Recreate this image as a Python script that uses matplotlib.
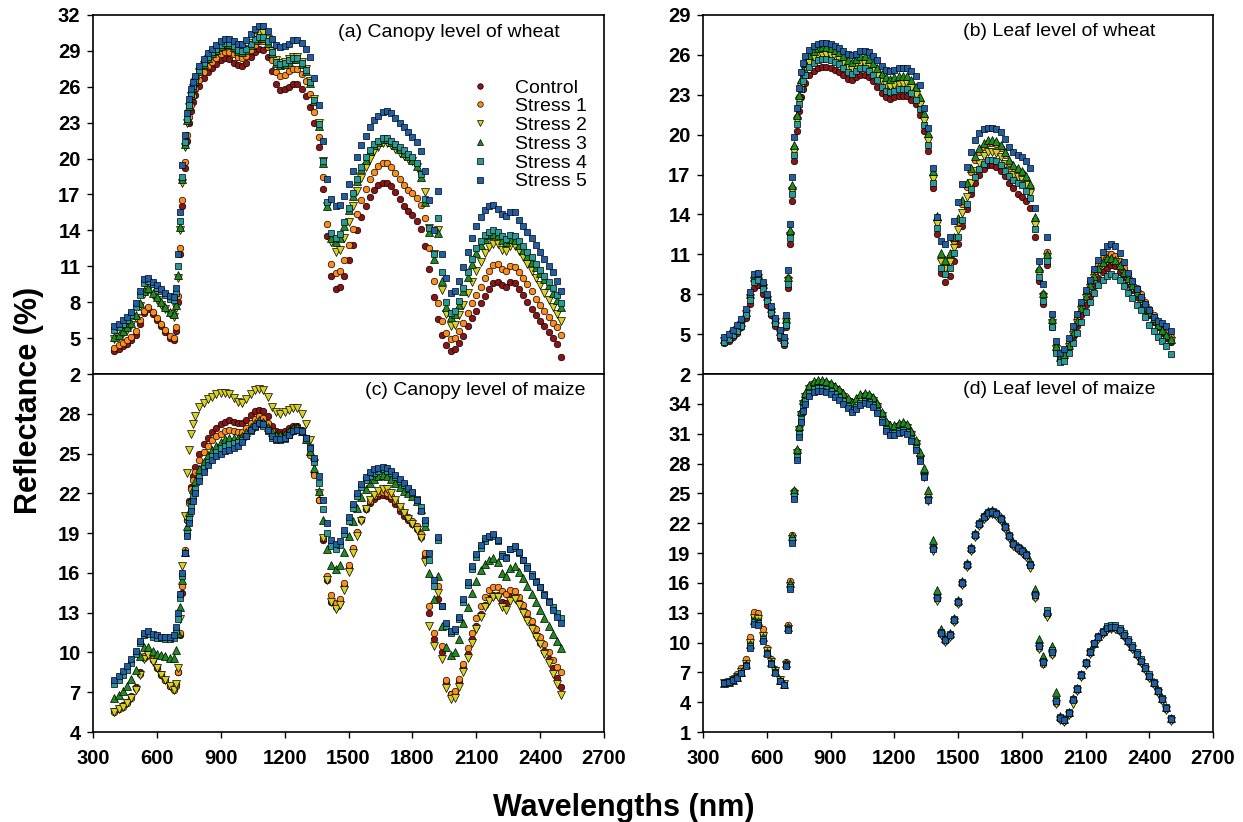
import matplotlib.pyplot as plt

# ---------------------------------------------------------
# Spectral reflectance of wheat / maize under 5 stress levels
# values (20 nm, 10 nm on the red edge)
# ---------------------------------------------------------

WAVELENGTHS = list(range(400, 681, 20)) + list(range(690, 781, 10)) + list(range(800, 2501, 20))

SERIES_NAMES = ["Control", "Stress 1", "Stress 2", "Stress 3", "Stress 4", "Stress 5"]

# (a) canopy level of wheat
A_CONTROL = [
    3.9, 4.1, 4.3, 4.5, 4.8, 5.3, 6.2, 7.1, 7.4, 7.0, 6.5, 6.0, 5.5, 5.0, 4.8,
    5.6, 8.0, 12.0, 16.0, 19.2, 21.5, 23.0, 24.0, 24.7, 25.3,
    26.1, 26.7, 27.2, 27.6, 27.9, 28.2, 28.4, 28.3, 28.0, 27.8, 27.7,
    28.0, 28.5, 28.9, 29.2, 29.1, 28.5, 27.3, 26.2, 25.7, 25.8, 26.0, 26.2, 26.2, 25.8, 25.2,
    24.3, 23.0, 21.0, 17.5, 13.5, 10.2, 9.1, 9.3, 10.2, 11.5, 12.8, 14.0, 15.1, 16.0, 16.8,
    17.4, 17.8, 18.0, 18.0, 17.7, 17.2, 16.6, 16.0, 15.6, 15.3, 14.8, 14.1, 12.7, 10.8, 8.4,
    6.6, 5.3, 4.4, 3.9, 4.1, 4.6, 5.2, 6.0, 6.7, 7.3, 7.9, 8.5, 9.1, 9.6, 9.7,
    9.4, 9.3, 9.7, 9.6, 9.1, 8.6, 8.0, 7.4, 6.9, 6.4, 6.0, 5.5, 5.0, 4.5, 3.4,
]
A_STRESS1 = [
    4.2, 4.4, 4.6, 4.8, 5.1, 5.6, 6.5, 7.3, 7.6, 7.2, 6.7, 6.2, 5.7, 5.2, 5.0,
    5.9, 8.5, 12.5, 16.5, 19.7, 22.0, 23.5, 24.5, 25.2, 25.8,
    26.6, 27.2, 27.7, 28.1, 28.4, 28.7, 28.9, 28.9, 28.7, 28.5, 28.4,
    28.6, 29.1, 29.5, 29.8, 29.8, 29.3, 28.2, 27.2, 26.9, 27.0, 27.3, 27.5, 27.5, 27.1, 26.5,
    25.4, 23.9, 21.8, 18.5, 14.5, 11.2, 10.4, 10.6, 11.5, 12.8, 14.1, 15.4, 16.5, 17.5, 18.3,
    18.9, 19.4, 19.6, 19.6, 19.3, 18.8, 18.3, 17.8, 17.4, 17.1, 16.7, 16.1, 15.0, 12.5, 9.8,
    7.9, 6.4, 5.4, 4.9, 5.0, 5.6, 6.3, 7.1, 7.9, 8.6, 9.3, 10.0, 10.6, 11.1, 11.2,
    10.8, 10.6, 11.0, 10.9, 10.5, 10.0, 9.5, 8.9, 8.3, 7.8, 7.3, 6.8, 6.3, 5.9, 5.3,
]
A_STRESS2 = [
    4.9, 5.1, 5.4, 5.7, 6.1, 6.7, 7.7, 8.7, 9.0, 8.6, 8.2, 7.8, 7.4, 7.0, 6.8,
    7.5, 10.0, 14.0, 18.0, 21.0, 23.0, 24.3, 25.2, 25.9, 26.4,
    27.2, 27.8, 28.3, 28.7, 29.0, 29.3, 29.5, 29.5, 29.2, 29.0, 28.9,
    29.2, 29.7, 30.2, 30.5, 30.5, 30.0, 29.0, 28.2, 28.0, 28.1, 28.3, 28.5, 28.5, 28.1, 27.5,
    26.5, 25.0, 23.0, 19.8, 16.0, 13.0, 12.2, 12.4, 13.4, 14.7, 16.0, 17.3, 18.4, 19.3, 20.0,
    20.6, 21.0, 21.3, 21.3, 21.1, 20.8, 20.5, 20.2, 20.0, 19.8, 19.3, 18.6, 17.2, 14.2, 12.0,
    14.0, 9.0, 7.0, 6.0, 6.1, 6.9, 7.8, 8.8, 9.7, 10.6, 11.4, 12.1, 12.6, 12.9, 12.9,
    12.4, 12.3, 12.7, 12.7, 12.3, 11.8, 11.2, 10.6, 10.0, 9.4, 8.8, 8.2, 7.6, 7.0, 6.4,
]
A_STRESS3 = [
    5.1, 5.3, 5.6, 5.9, 6.3, 6.9, 7.9, 8.9, 9.2, 8.8, 8.4, 8.0, 7.6, 7.2, 7.0,
    7.8, 10.3, 14.3, 18.3, 21.2, 23.2, 24.4, 25.3, 26.0, 26.5,
    27.3, 27.9, 28.4, 28.8, 29.1, 29.4, 29.6, 29.6, 29.3, 29.0, 28.9,
    29.1, 29.5, 29.9, 30.1, 30.1, 29.7, 28.8, 28.0, 27.8, 27.9, 28.1, 28.3, 28.3, 27.9, 27.3,
    26.3, 24.8, 22.7, 19.6, 16.0, 13.4, 13.0, 13.4, 14.4, 15.7, 16.9, 18.1, 19.1, 19.9, 20.6,
    21.1, 21.4, 21.6, 21.6, 21.4, 21.1, 20.8, 20.5, 20.2, 19.9, 19.4, 18.5, 16.4, 13.9, 11.6,
    13.8, 9.8, 7.6, 6.8, 7.0, 7.8, 8.9, 10.1, 11.2, 12.1, 12.8, 13.3, 13.6, 13.7, 13.6,
    13.2, 13.0, 13.3, 13.2, 12.8, 12.4, 11.9, 11.4, 10.9, 10.4, 9.9, 9.4, 8.8, 8.2, 7.6,
]
A_STRESS4 = [
    5.7, 5.9, 6.2, 6.5, 6.9, 7.6, 8.6, 9.6, 9.8, 9.5, 9.2, 8.9, 8.6, 8.3, 8.2,
    8.8, 11.0, 14.8, 18.5, 21.4, 23.3, 24.5, 25.4, 26.1, 26.6,
    27.4, 28.0, 28.5, 28.9, 29.2, 29.5, 29.7, 29.7, 29.4, 29.1, 29.0,
    29.2, 29.6, 30.0, 30.2, 30.2, 29.8, 28.9, 28.1, 27.9, 28.0, 28.2, 28.4, 28.4, 28.0, 27.4,
    26.4, 24.9, 22.9, 19.8, 16.4, 13.8, 13.4, 13.7, 14.7, 15.9, 17.1, 18.3, 19.3, 20.1, 20.7,
    21.2, 21.5, 21.7, 21.7, 21.5, 21.2, 21.0, 20.7, 20.4, 20.1, 19.6, 18.7, 16.6, 14.2, 12.0,
    15.0, 10.5, 8.0, 7.1, 7.3, 8.1, 9.2, 10.5, 11.6, 12.5, 13.1, 13.6, 13.9, 14.0, 13.9,
    13.5, 13.3, 13.6, 13.5, 13.1, 12.7, 12.2, 11.8, 11.2, 10.7, 10.2, 9.7, 9.2, 8.6, 7.9,
]
A_STRESS5 = [
    6.0, 6.2, 6.5, 6.8, 7.2, 7.9, 8.9, 9.9, 10.0, 9.7, 9.4, 9.1, 8.8, 8.5, 8.4,
    9.2, 12.0, 15.5, 19.5, 22.0, 23.8, 25.0, 25.8, 26.4, 26.9,
    27.7, 28.3, 28.8, 29.2, 29.5, 29.8, 30.0, 30.0, 29.8, 29.6, 29.6,
    29.9, 30.4, 30.8, 31.1, 31.1, 30.7, 30.0, 29.5, 29.3, 29.4, 29.6, 29.9, 29.9, 29.7, 29.2,
    28.5, 26.7, 24.5, 21.5, 18.3, 16.6, 16.0, 16.1, 16.9, 17.9, 19.0, 20.1, 21.1, 21.9, 22.6,
    23.2, 23.6, 23.9, 24.0, 23.8, 23.4, 23.0, 22.6, 22.2, 21.8, 21.4, 20.6, 19.0, 16.5, 14.0,
    17.3, 12.0, 10.0, 8.8, 8.9, 9.8, 10.9, 12.2, 13.4, 14.4, 15.1, 15.7, 16.0, 16.1, 15.8,
    15.4, 15.2, 15.5, 15.5, 14.9, 14.4, 13.9, 13.4, 12.8, 12.2, 11.6, 11.0, 10.5, 9.8, 8.9,
]

# (b) leaf level of wheat
B_CONTROL = [
    4.3, 4.5, 4.8, 5.1, 5.5, 6.2, 7.3, 8.5, 8.7, 8.0, 7.2, 6.4, 5.6, 4.7, 4.2,
    5.5, 8.5, 11.8, 15.0, 18.0, 20.3, 21.8, 22.8, 23.4, 23.9,
    24.5, 24.8, 25.0, 25.1, 25.1, 25.0, 24.9, 24.7, 24.5, 24.2, 24.1,
    24.3, 24.5, 24.5, 24.3, 24.0, 23.6, 23.1, 22.8, 22.7, 22.8, 22.9, 22.9, 22.9, 22.6, 22.3,
    21.5, 20.3, 18.8, 16.0, 12.5, 9.6, 8.9, 9.4, 10.5, 11.8, 13.1, 14.4, 15.5, 16.4, 17.0,
    17.4, 17.7, 17.7, 17.6, 17.3, 16.9, 16.4, 16.0, 15.5, 15.3, 15.0, 14.5, 12.3, 9.0, 7.3,
    10.2, 5.5, 3.8, 3.1, 3.3, 4.0, 4.8, 5.6, 6.4, 7.2, 7.9, 8.6, 9.2, 9.7, 10.0,
    10.2, 10.1, 9.7, 9.3, 8.8, 8.3, 7.8, 7.3, 6.8, 6.4, 5.9, 5.5, 5.1, 4.7, 4.4,
]
B_STRESS1 = [
    4.5, 4.7, 5.0, 5.4, 5.8, 6.6, 7.9, 9.2, 9.4, 8.7, 7.8, 6.9, 6.0, 5.1, 4.5,
    6.0, 9.2, 12.6, 16.0, 19.0, 21.3, 22.8, 23.9, 24.6, 25.1,
    25.7, 26.0, 26.2, 26.3, 26.3, 26.2, 26.1, 25.9, 25.6, 25.3, 25.2,
    25.4, 25.6, 25.6, 25.4, 25.1, 24.7, 24.3, 24.0, 23.9, 24.0, 24.1, 24.1, 24.1, 23.8, 23.3,
    22.5, 21.3, 19.8, 17.0, 13.6, 10.8, 10.3, 10.8, 12.0, 13.4, 14.8, 16.1, 17.2, 18.1, 18.7,
    19.1, 19.4, 19.4, 19.3, 19.0, 18.5, 17.9, 17.5, 17.3, 17.1, 16.7, 16.1, 13.6, 9.8, 8.0,
    11.2, 6.0, 4.1, 3.3, 3.5, 4.3, 5.2, 6.2, 7.2, 8.1, 8.9, 9.7, 10.3, 10.7, 11.0,
    11.0, 10.9, 10.5, 10.0, 9.5, 9.0, 8.5, 8.0, 7.4, 6.9, 6.4, 5.9, 5.5, 5.1, 4.8,
]
B_STRESS2 = [
    4.5, 4.7, 5.0, 5.3, 5.7, 6.5, 7.7, 9.0, 9.2, 8.5, 7.6, 6.7, 5.9, 5.0, 4.4,
    5.9, 9.0, 12.4, 15.8, 18.7, 21.0, 22.5, 23.6, 24.3, 24.8,
    25.4, 25.7, 25.9, 26.0, 26.0, 25.9, 25.8, 25.6, 25.3, 25.0, 24.9,
    25.1, 25.3, 25.3, 25.1, 24.8, 24.4, 24.0, 23.7, 23.6, 23.7, 23.8, 23.8, 23.8, 23.5, 23.0,
    22.2, 21.0, 19.5, 16.7, 13.3, 10.4, 9.9, 10.4, 11.5, 12.8, 14.1, 15.3, 16.4, 17.3, 17.9,
    18.4, 18.7, 18.7, 18.6, 18.3, 17.8, 17.3, 17.0, 16.8, 16.6, 16.2, 15.6, 13.2, 9.5, 7.8,
    10.8, 5.8, 3.9, 3.1, 3.3, 4.0, 4.9, 5.8, 6.8, 7.7, 8.5, 9.2, 9.8, 10.2, 10.5,
    10.5, 10.4, 10.0, 9.5, 9.0, 8.5, 8.0, 7.5, 7.0, 6.5, 6.0, 5.6, 5.2, 4.8, 4.5,
]
B_STRESS3 = [
    4.6, 4.8, 5.1, 5.5, 5.9, 6.7, 8.0, 9.3, 9.5, 8.8, 7.9, 7.0, 6.1, 5.2, 4.6,
    6.1, 9.3, 12.8, 16.2, 19.2, 21.5, 23.0, 24.2, 24.9, 25.4,
    26.0, 26.3, 26.5, 26.6, 26.6, 26.5, 26.4, 26.2, 25.9, 25.6, 25.5,
    25.7, 25.9, 25.9, 25.7, 25.4, 25.0, 24.6, 24.3, 24.2, 24.3, 24.4, 24.4, 24.4, 24.1, 23.6,
    22.8, 21.6, 20.1, 17.3, 13.9, 11.1, 10.6, 11.1, 12.3, 13.7, 15.1, 16.4, 17.5, 18.4, 19.0,
    19.4, 19.6, 19.6, 19.5, 19.2, 18.7, 18.1, 17.7, 17.5, 17.3, 16.9, 16.3, 13.8, 10.0, 8.1,
    11.0, 6.1, 4.1, 3.3, 3.5, 4.2, 5.1, 6.0, 7.0, 7.9, 8.7, 9.4, 10.0, 10.4, 10.7,
    10.7, 10.6, 10.2, 9.7, 9.2, 8.7, 8.2, 7.7, 7.2, 6.7, 6.2, 5.7, 5.3, 4.9, 4.6,
]
B_STRESS4 = [
    4.4, 4.6, 4.9, 5.2, 5.6, 6.4, 7.6, 8.9, 9.1, 8.4, 7.5, 6.6, 5.8, 4.9, 4.3,
    5.7, 8.8, 12.2, 15.5, 18.5, 20.8, 22.3, 23.4, 24.0, 24.5,
    25.1, 25.4, 25.6, 25.7, 25.7, 25.6, 25.5, 25.3, 25.0, 24.7, 24.6,
    24.8, 25.0, 25.0, 24.8, 24.5, 24.1, 23.6, 23.3, 23.2, 23.3, 23.4, 23.4, 23.4, 23.1, 22.6,
    21.9, 20.7, 19.2, 16.4, 13.0, 10.0, 9.5, 10.0, 11.1, 12.3, 13.6, 14.8, 15.9, 16.8, 17.4,
    17.8, 18.1, 18.1, 18.0, 17.7, 17.3, 16.9, 16.6, 16.4, 16.2, 15.8, 15.2, 12.9, 9.3, 7.5,
    10.5, 5.5, 3.6, 2.9, 3.0, 3.6, 4.3, 5.1, 5.9, 6.7, 7.4, 8.1, 8.7, 9.1, 9.4,
    9.5, 9.4, 9.1, 8.6, 8.1, 7.7, 7.2, 6.8, 6.3, 5.7, 5.2, 4.8, 4.5, 4.1, 3.5,
]
B_STRESS5 = [
    4.8, 5.0, 5.3, 5.7, 6.1, 6.9, 8.2, 9.5, 9.6, 8.9, 8.0, 7.1, 6.2, 5.3, 4.8,
    6.4, 9.8, 13.3, 16.8, 19.8, 22.0, 23.5, 24.7, 25.4, 25.9,
    26.4, 26.7, 26.8, 26.9, 26.9, 26.8, 26.7, 26.5, 26.3, 26.1, 26.0,
    26.1, 26.3, 26.3, 26.2, 25.9, 25.6, 25.2, 24.9, 24.8, 24.9, 25.0, 25.0, 25.0, 24.8, 24.4,
    23.7, 22.0, 20.5, 17.5, 13.8, 12.0, 11.8, 12.3, 13.5, 14.9, 16.3, 17.6, 18.7, 19.6, 20.1,
    20.4, 20.5, 20.5, 20.4, 20.2, 19.7, 19.1, 18.7, 18.5, 18.3, 18.0, 17.5, 14.5, 10.5, 8.8,
    12.3, 6.5, 4.5, 3.6, 3.9, 4.7, 5.6, 6.5, 7.4, 8.3, 9.1, 9.9, 10.6, 11.2, 11.6,
    11.8, 11.6, 11.1, 10.4, 9.6, 9.0, 8.4, 7.8, 7.3, 6.8, 6.3, 6.0, 5.8, 5.6, 5.2,
]

# (c) canopy level of maize
C_CONTROL = [
    5.6, 5.8, 6.0, 6.3, 6.7, 7.4, 8.5, 9.6, 9.9, 9.4, 8.8, 8.3, 7.9, 7.5, 7.3,
    7.6, 8.5, 11.3, 14.5, 17.5, 20.0, 21.4, 22.5, 23.3, 24.0,
    25.0, 25.7, 26.2, 26.6, 26.9, 27.2, 27.4, 27.5, 27.4, 27.3, 27.3,
    27.5, 27.9, 28.2, 28.3, 28.2, 27.8, 27.1, 26.7, 26.6, 26.7, 26.9, 27.1, 27.1, 26.8, 26.1,
    25.0, 23.5, 21.5, 18.5, 15.5, 13.8, 13.4, 13.8, 15.0, 16.4, 17.8, 19.0, 20.0, 20.8, 21.3,
    21.6, 21.8, 21.9, 21.8, 21.6, 21.2, 20.7, 20.3, 20.0, 19.7, 19.3, 18.7, 17.2, 13.0, 11.0,
    14.0, 10.0, 7.8, 6.9, 7.0, 7.8, 8.8, 9.9, 11.0, 12.0, 12.9, 13.6, 14.1, 14.3, 14.3,
    13.8, 13.7, 14.2, 14.2, 13.8, 13.2, 12.6, 12.0, 11.3, 10.7, 10.1, 9.5, 8.8, 8.1, 7.4,
]
C_STRESS1 = [
    5.5, 5.7, 5.9, 6.2, 6.6, 7.3, 8.4, 9.7, 10.0, 9.5, 8.9, 8.4, 7.9, 7.5, 7.2,
    7.5, 8.5, 11.5, 15.0, 17.7, 20.0, 21.3, 22.3, 23.0, 23.6,
    24.5, 25.1, 25.6, 26.0, 26.3, 26.5, 26.7, 26.8, 26.7, 26.6, 26.6,
    26.9, 27.3, 27.6, 27.8, 27.7, 27.3, 26.7, 26.3, 26.2, 26.3, 26.6, 26.8, 26.9, 26.6, 26.0,
    24.9, 23.4, 21.5, 18.6, 15.8, 14.3, 13.7, 14.0, 15.2, 16.6, 17.9, 19.1, 20.1, 20.9, 21.4,
    21.8, 22.0, 22.1, 22.0, 21.8, 21.4, 20.9, 20.5, 20.2, 19.9, 19.5, 18.9, 17.5, 13.5, 11.5,
    15.0, 10.5, 7.9, 6.9, 7.1, 8.0, 9.1, 10.3, 11.5, 12.6, 13.5, 14.2, 14.7, 14.9, 14.9,
    14.6, 14.4, 14.7, 14.6, 14.2, 13.6, 13.0, 12.4, 11.8, 11.2, 10.6, 10.0, 9.4, 8.9, 8.5,
]
C_STRESS2 = [
    5.5, 5.7, 5.9, 6.2, 6.6, 7.2, 8.3, 9.5, 9.8, 9.3, 8.8, 8.3, 7.9, 7.5, 7.2,
    7.6, 8.8, 12.5, 16.5, 20.3, 23.5, 25.3, 26.5, 27.2, 27.8,
    28.5, 28.8, 29.1, 29.3, 29.5, 29.6, 29.6, 29.5, 29.2, 28.9, 28.8,
    29.1, 29.5, 29.8, 29.9, 29.8, 29.3, 28.5, 28.1, 28.0, 28.1, 28.3, 28.4, 28.4, 28.0, 27.2,
    26.0, 24.3, 22.0, 18.6, 15.5, 13.8, 13.3, 13.6, 14.7, 16.1, 17.5, 18.8, 19.9, 20.8, 21.5,
    21.9, 22.2, 22.3, 22.3, 22.0, 21.5, 21.0, 20.5, 20.1, 19.7, 19.2, 18.6, 16.8, 12.0, 10.5,
    14.5, 9.5, 7.3, 6.5, 6.6, 7.4, 8.5, 9.6, 10.7, 11.8, 12.7, 13.4, 13.9, 14.2, 14.2,
    13.4, 13.2, 13.9, 14.0, 13.6, 13.0, 12.4, 11.8, 11.2, 10.6, 9.9, 9.2, 8.4, 7.6, 6.8,
]
C_STRESS3 = [
    6.6, 6.8, 7.1, 7.5, 8.0, 8.7, 9.7, 10.4, 10.4, 10.1, 9.9, 9.8, 9.7, 9.6, 9.6,
    10.2, 11.5, 13.4, 15.5, 17.6, 19.5, 20.6, 21.6, 22.3, 22.9,
    23.8, 24.4, 24.9, 25.3, 25.6, 25.9, 26.1, 26.2, 26.2, 26.2, 26.3,
    26.6, 27.0, 27.3, 27.5, 27.4, 27.0, 26.6, 26.4, 26.4, 26.5, 26.7, 26.9, 27.0, 26.7, 26.1,
    25.2, 23.9, 22.2, 20.0, 17.8, 16.6, 16.3, 16.6, 17.6, 18.8, 19.9, 20.9, 21.7, 22.3, 22.8,
    23.1, 23.3, 23.4, 23.3, 23.1, 22.8, 22.5, 22.2, 22.0, 21.8, 21.4, 20.8, 19.5, 16.0, 14.0,
    15.8, 12.0, 10.4, 9.8, 10.0, 11.0, 12.2, 13.4, 14.5, 15.4, 16.2, 16.7, 17.0, 17.1, 16.8,
    16.0, 15.8, 16.4, 16.5, 16.1, 15.6, 15.0, 14.4, 13.8, 13.2, 12.6, 12.0, 11.4, 10.9, 10.3,
]
C_STRESS4 = [
    7.6, 7.9, 8.3, 8.7, 9.2, 9.9, 10.7, 11.3, 11.4, 11.2, 11.1, 11.1, 11.0, 11.0, 11.1,
    11.6, 12.5, 14.1, 15.8, 17.5, 19.0, 20.1, 21.0, 21.7, 22.3,
    23.2, 23.9, 24.4, 24.8, 25.1, 25.4, 25.6, 25.7, 25.8, 25.9, 26.0,
    26.3, 26.7, 27.0, 27.2, 27.1, 26.7, 26.2, 26.0, 26.0, 26.1, 26.4, 26.7, 26.8, 26.6, 26.2,
    25.5, 24.4, 22.8, 20.8, 19.0, 18.0, 17.8, 18.1, 18.9, 19.9, 20.9, 21.8, 22.5, 23.0, 23.3,
    23.5, 23.7, 23.8, 23.7, 23.5, 23.2, 22.9, 22.6, 22.3, 22.0, 21.6, 21.0, 19.8, 17.0, 15.0,
    18.5, 13.5, 12.0, 11.5, 11.6, 12.5, 13.8, 15.1, 16.3, 17.2, 17.9, 18.4, 18.7, 18.8, 18.4,
    17.4, 17.2, 17.8, 17.9, 17.5, 17.0, 16.5, 15.9, 15.4, 14.9, 14.4, 13.9, 13.4, 13.0, 12.6,
]
C_STRESS5 = [
    7.9, 8.2, 8.6, 9.0, 9.5, 10.1, 10.9, 11.5, 11.6, 11.4, 11.3, 11.2, 11.2, 11.2, 11.3,
    11.9, 13.0, 14.4, 16.0, 17.5, 18.8, 19.8, 20.7, 21.4, 22.0,
    22.9, 23.6, 24.1, 24.5, 24.8, 25.0, 25.2, 25.3, 25.4, 25.6, 25.9,
    26.3, 26.8, 27.1, 27.3, 27.2, 26.8, 26.3, 26.1, 26.1, 26.2, 26.4, 26.7, 26.8, 26.7, 26.2,
    25.4, 24.7, 23.3, 21.5, 19.8, 18.5, 18.2, 18.4, 19.2, 20.2, 21.2, 22.0, 22.7, 23.2, 23.6,
    23.8, 23.9, 24.0, 23.9, 23.7, 23.4, 23.1, 22.8, 22.4, 22.1, 21.5, 20.7, 20.0, 17.5, 15.5,
    18.7, 13.5, 12.2, 11.6, 11.8, 12.7, 14.0, 15.3, 16.5, 17.4, 18.1, 18.6, 18.8, 18.9, 18.5,
    17.3, 17.1, 17.8, 18.0, 17.6, 17.0, 16.4, 15.8, 15.3, 14.9, 14.3, 13.8, 13.2, 12.7, 12.2,
]

# (d) leaf level of maize
D_CONTROL = [
    5.9, 6.0, 6.2, 6.5, 7.0, 7.8, 10.1, 12.6, 12.5, 10.9, 9.0, 8.0, 7.1, 6.2, 5.8,
    7.8, 11.5, 15.8, 20.5, 25.1, 29.3, 31.6, 33.1, 34.2, 34.9,
    35.7, 36.1, 36.2, 36.2, 36.1, 35.9, 35.6, 35.3, 34.9, 34.4, 34.0,
    34.3, 34.7, 34.9, 34.8, 34.5, 33.9, 33.0, 32.1, 31.7, 31.7, 31.9, 32.0, 31.8, 31.1, 30.2,
    28.6, 26.8, 24.5, 19.5, 14.5, 11.0, 10.3, 10.8, 12.3, 14.1, 16.0, 17.8, 19.4, 20.8, 21.9,
    22.6, 23.0, 23.1, 22.9, 22.4, 21.6, 20.7, 19.9, 19.5, 19.2, 18.8, 17.8, 14.8, 9.6, 8.0,
    13.0, 9.0, 4.0, 2.4, 2.2, 2.9, 4.3, 5.3, 6.7, 7.9, 9.0, 9.9, 10.6, 11.1, 11.5,
    11.6, 11.6, 11.3, 10.8, 10.2, 9.5, 8.8, 8.1, 7.4, 6.6, 5.9, 5.1, 4.3, 3.4, 2.3,
]
D_STRESS1 = [
    6.0, 6.1, 6.4, 6.8, 7.4, 8.3, 10.6, 13.1, 13.0, 11.4, 9.4, 8.3, 7.3, 6.3, 5.8,
    8.0, 11.8, 16.2, 20.8, 25.2, 29.2, 31.5, 33.0, 34.1, 34.8,
    35.6, 36.0, 36.1, 36.1, 36.0, 35.8, 35.5, 35.2, 34.8, 34.3, 33.9,
    34.2, 34.6, 34.8, 34.7, 34.4, 33.8, 32.9, 32.0, 31.6, 31.6, 31.8, 31.9, 31.7, 31.0, 30.1,
    28.7, 26.9, 24.6, 19.6, 14.4, 10.9, 10.2, 10.7, 12.2, 14.0, 15.9, 17.7, 19.3, 20.7, 21.8,
    22.5, 22.9, 23.0, 22.8, 22.3, 21.5, 20.6, 19.8, 19.4, 19.1, 18.7, 17.7, 14.6, 9.4, 7.8,
    12.8, 8.8, 3.9, 2.3, 2.1, 2.8, 4.2, 5.2, 6.6, 7.8, 8.9, 9.8, 10.5, 11.0, 11.4,
    11.5, 11.5, 11.2, 10.7, 10.1, 9.4, 8.7, 8.0, 7.3, 6.5, 5.8, 5.0, 4.2, 3.3, 2.2,
]
D_STRESS2 = [
    5.9, 6.0, 6.2, 6.5, 7.0, 7.8, 10.0, 12.5, 12.4, 10.7, 9.1, 8.0, 7.1, 6.2, 5.8,
    7.7, 11.4, 15.7, 20.4, 24.9, 29.1, 31.4, 32.9, 34.0, 34.7,
    35.5, 35.9, 36.0, 36.0, 35.9, 35.7, 35.4, 35.1, 34.7, 34.2, 33.8,
    34.1, 34.5, 34.7, 34.6, 34.3, 33.7, 32.8, 31.9, 31.5, 31.5, 31.7, 31.8, 31.6, 30.9, 30.0,
    28.5, 26.6, 24.2, 19.2, 14.2, 10.8, 10.1, 10.6, 12.1, 13.9, 15.8, 17.6, 19.2, 20.6, 21.7,
    22.4, 22.8, 22.9, 22.7, 22.2, 21.4, 20.5, 19.7, 19.3, 19.0, 18.6, 17.5, 14.5, 9.3, 7.8,
    12.6, 8.7, 3.8, 2.2, 2.0, 2.7, 3.8, 5.1, 6.5, 7.7, 8.8, 9.7, 10.4, 10.9, 11.3,
    11.4, 11.4, 11.1, 10.6, 10.0, 9.3, 8.6, 7.9, 7.2, 6.4, 5.7, 4.9, 4.1, 3.2, 2.1,
]
D_STRESS3 = [
    5.9, 6.0, 6.2, 6.5, 7.0, 7.8, 9.8, 12.3, 12.2, 10.6, 9.0, 8.0, 7.1, 6.2, 5.8,
    7.9, 11.6, 16.0, 20.7, 25.3, 29.5, 31.8, 33.3, 34.4, 35.1,
    35.9, 36.3, 36.4, 36.4, 36.3, 36.1, 35.8, 35.5, 35.1, 34.6, 34.2,
    34.6, 35.0, 35.1, 35.0, 34.7, 34.1, 33.2, 32.3, 31.9, 31.9, 32.1, 32.2, 32.0, 31.3, 30.4,
    29.2, 27.5, 25.3, 20.3, 15.3, 11.4, 10.5, 11.0, 12.5, 14.3, 16.2, 18.0, 19.6, 21.0, 22.1,
    22.8, 23.2, 23.3, 23.1, 22.6, 21.8, 20.9, 20.1, 19.7, 19.4, 19.0, 18.2, 15.4, 10.4, 8.6,
    13.2, 9.6, 5.0, 2.6, 2.3, 3.0, 4.4, 5.4, 6.8, 8.0, 9.1, 10.0, 10.7, 11.2, 11.6,
    11.7, 11.7, 11.4, 10.9, 10.3, 9.6, 8.9, 8.2, 7.5, 6.7, 6.0, 5.2, 4.4, 3.5, 2.4,
]
D_STRESS4 = [
    5.9, 6.0, 6.2, 6.5, 6.9, 7.7, 9.6, 12.1, 12.0, 10.4, 8.9, 7.9, 7.0, 6.1, 5.7,
    7.7, 11.4, 15.6, 20.3, 24.7, 28.7, 31.0, 32.5, 33.6, 34.3,
    35.1, 35.5, 35.6, 35.6, 35.5, 35.3, 35.0, 34.7, 34.3, 33.8, 33.4,
    33.7, 34.1, 34.3, 34.2, 33.9, 33.3, 32.4, 31.5, 31.1, 31.1, 31.3, 31.4, 31.2, 30.5, 29.6,
    28.4, 26.7, 24.4, 19.5, 14.6, 11.1, 10.4, 10.9, 12.4, 14.2, 16.1, 17.9, 19.5, 20.9, 22.0,
    22.7, 23.1, 23.2, 23.0, 22.5, 21.7, 20.8, 20.0, 19.6, 19.3, 18.9, 17.9, 14.9, 9.7, 8.1,
    13.3, 9.2, 4.2, 2.5, 2.3, 3.0, 4.3, 5.4, 6.8, 8.0, 9.1, 10.0, 10.7, 11.2, 11.7,
    11.8, 11.8, 11.5, 11.0, 10.4, 9.7, 9.0, 8.3, 7.6, 6.8, 6.0, 5.2, 4.4, 3.5, 2.4,
]
D_STRESS5 = [
    5.9, 6.0, 6.2, 6.4, 6.9, 7.6, 9.4, 11.9, 11.8, 10.2, 8.8, 7.8, 6.9, 6.1, 5.7,
    7.6, 11.3, 15.4, 20.0, 24.4, 28.4, 30.7, 32.2, 33.3, 34.0,
    34.8, 35.2, 35.3, 35.3, 35.2, 35.0, 34.7, 34.4, 34.0, 33.6, 33.2,
    33.5, 33.9, 34.1, 34.0, 33.7, 33.1, 32.2, 31.3, 30.9, 30.9, 31.1, 31.2, 31.0, 30.3, 29.4,
    28.3, 26.6, 24.3, 19.4, 14.5, 11.0, 10.3, 10.8, 12.3, 14.1, 16.0, 17.8, 19.4, 20.8, 21.9,
    22.6, 23.0, 23.1, 22.9, 22.4, 21.6, 20.7, 19.9, 19.5, 19.2, 18.8, 17.8, 14.8, 9.6, 8.0,
    13.0, 9.0, 4.1, 2.4, 2.2, 2.9, 4.2, 5.3, 6.7, 7.9, 9.0, 9.9, 10.6, 11.1, 11.5,
    11.6, 11.6, 11.3, 10.8, 10.2, 9.5, 8.8, 8.1, 7.4, 6.6, 5.9, 5.1, 4.3, 3.4, 2.3,
]

# marker styling per treatment
MARKERS = ["o", "o", "v", "^", "s", "s"]
COLORS = ["#8c1414", "#ff8c1a", "#d8d21e", "#1e8c1e", "#289a9a", "#1f5fa5"]
SIZES = [4.7, 4.7, 5.3, 5.3, 4.7, 4.7]

W, H = 1243, 822


def px_axes(left, top, right, bottom):
    # pixel box -> figure fraction
    return [left / W, 1 - bottom / H, (right - left) / W, (bottom - top) / H]


def draw_panel(ax, series, ylim, yticks, title, tpos, top_row):
    for vals, m, c, s, name in zip(series, MARKERS, COLORS, SIZES, SERIES_NAMES):
        ax.plot(WAVELENGTHS, vals, linestyle="none", marker=m, markersize=s,
                markerfacecolor=c, markeredgecolor="black", markeredgewidth=0.5,
                label=name)
    ax.set_xlim(300, 2700)
    ax.set_ylim(*ylim)
    ax.set_xticks(range(300, 2701, 300))
    ax.set_yticks(yticks)
    for sp in ax.spines.values():
        sp.set_linewidth(1.2)
    ax.tick_params(axis="both", direction="out", length=4, width=1.0,
                   labelsize=14.5, top=False, right=False)
    ax.tick_params(axis="y", pad=5)
    ax.tick_params(axis="x", pad=8)
    for lab in ax.get_xticklabels() + ax.get_yticklabels():
        lab.set_fontweight("bold")
    if top_row:
        ax.tick_params(axis="x", bottom=False, labelbottom=False)
    ax.text(tpos[0], tpos[1], title, transform=ax.transAxes, fontsize=14,
            ha="left", va="baseline")


def main():
    plt.rcParams["font.family"] = ["Liberation Sans", "DejaVu Sans"]
    fig = plt.figure(figsize=(W / 100, H / 100), dpi=100)

    ax_a = fig.add_axes(px_axes(93, 15, 604, 374))
    ax_b = fig.add_axes(px_axes(703, 15, 1213, 374))
    ax_c = fig.add_axes(px_axes(93, 374, 604, 732))
    ax_d = fig.add_axes(px_axes(703, 374, 1213, 732))

    draw_panel(ax_a, [A_CONTROL, A_STRESS1, A_STRESS2, A_STRESS3, A_STRESS4, A_STRESS5],
               (2, 32), range(2, 33, 3), "(a) Canopy level of wheat", (0.479, 0.939), True)
    draw_panel(ax_b, [B_CONTROL, B_STRESS1, B_STRESS2, B_STRESS3, B_STRESS4, B_STRESS5],
               (2, 29), range(2, 30, 3), "(b) Leaf level of wheat", (0.51, 0.942), True)
    draw_panel(ax_c, [C_CONTROL, C_STRESS1, C_STRESS2, C_STRESS3, C_STRESS4, C_STRESS5],
               (4, 31), range(4, 29, 3), "(c) Canopy level of maize", (0.532, 0.941), False)
    draw_panel(ax_d, [D_CONTROL, D_STRESS1, D_STRESS2, D_STRESS3, D_STRESS4, D_STRESS5],
               (1, 37), range(1, 35, 3), "(d) Leaf level of maize", (0.51, 0.944), False)

    ax_a.legend(loc="upper left", bbox_to_anchor=(0.738, 0.822), frameon=False,
                fontsize=14, handlelength=1.0, handletextpad=1.3, labelspacing=0.06,
                borderpad=0, borderaxespad=0, numpoints=1, markerscale=0.85)

    fig.text(29 / W, 1 - 400 / H, "Reflectance (%)", rotation=90, fontsize=22,
             fontweight="bold", ha="center", va="center")
    fig.text(624 / W, 1 - 816 / H, "Wavelengths (nm)", fontsize=22,
             fontweight="bold", ha="center", va="baseline")

    fig.savefig("out.png", dpi=100)
    plt.close(fig)


if __name__ == "__main__":
    main()
